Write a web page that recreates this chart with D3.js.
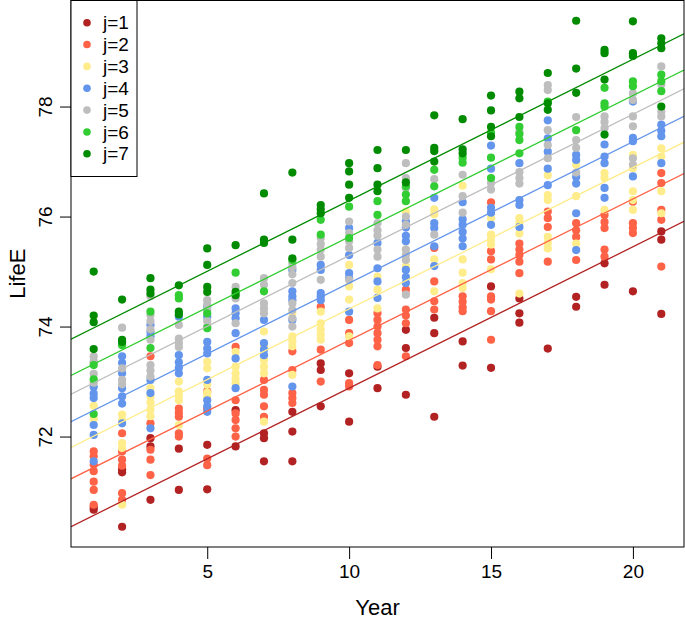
<!DOCTYPE html>
<html>
<head>
<meta charset="utf-8">
<script src="https://cdn.jsdelivr.net/npm/d3@7"></script>
<style>
  html, body { margin: 0; padding: 0; background: #fff; }
  svg { display: block; font-family: "Liberation Sans", Arial, Helvetica, sans-serif; }
</style>
</head>
<body>
<div id="chart"></div>
<script>
// ---------- DATA ----------
const years = [1,2,3,4,5,6,7,8,9,10,11,12,13,14,15,16,17,18,19,20,21];
const groupLabels = ["j=1","j=2","j=3","j=4","j=5","j=6","j=7"];
const groupColors = ["#B22222","#FF6347","#FFEC8B","#6495ED","#BEBEBE","#32CD32","#008B00"];
const xTicks = [5,10,15,20];
const yTicks = [72,74,76,78];

// LifeE values per year (index 0 = year 1) for each group
const j1 = [
  [70.67,70.72],[71.40,71.35,70.36],[71.97,71.82,70.85],[71.78,71.03],[71.85,71.04],
  [72.48,71.82],[72.06,71.97,71.55],[72.45,72.09,71.55],[73.33,73.21,72.55],[73.15,72.27],
  [73.27,72.88],[73.94,73.61,72.76],[74.16,73.88,72.36],[73.73,73.29],[74.73,73.25],
  [74.51,74.24,74.07],[73.60],[74.54,74.36],[75.15,74.76],[74.64],[75.73,75.58,74.23]
];
const j2 = [
  [71.73,71.64,71.49,71.37,71.18,71.03,70.76],[72.06,71.73,71.58,71.47,70.97,70.85],
  [73.46,72.24,71.76,71.58,71.30],[72.51,72.43,72.36,72.06,72.00],[72.82,72.51,71.60,71.48],
  [73.63,72.66,72.42,72.30,72.15,72.00],[73.03,72.85,72.76,72.55,72.36],[73.55,73.21,72.79,72.70,72.61],
  [74.36,73.58,73.00],[74.12,73.88,73.70,72.97,72.91],[74.24,74.12,74.00,73.88,73.76,73.64,73.30],
  [74.67,74.31,74.20,74.06,73.46],[75.43,74.82,74.46,74.31],[74.55,74.45,74.35,74.28],
  [76.26,75.37,75.22,74.55,74.49,74.28,73.76],[75.51,75.40,75.30,75.18,74.97],[76.09,75.97,75.81,75.18],
  [75.88,75.75,75.63,75.21],[76.03,75.90,75.79,75.40,75.27],[76.27,75.88,75.79,75.70],
  [76.79,76.61,76.12,75.94,75.09]
];
const j3 = [
  [72.56,72.32],[72.40,72.30,71.88,71.79,70.76],[72.88,72.73,72.62,72.49,72.37],
  [73.00,72.82,72.74,72.66,72.21],[73.36,73.24,72.94,72.80,72.72],[73.54,73.27,73.15,73.05,72.97],
  [73.91,73.64,73.39,73.27,73.15,72.27],[74.24,73.82,73.73,73.64,73.12],[74.27,74.06,73.95,73.85,73.76],
  [75.12,74.73,74.49,73.82],[74.91,74.67,74.33],[76.09,75.40,75.21,75.09],[76.13,76.04,75.22,74.64],
  [76.56,75.22,74.98,74.79,74.70],[75.97,75.67,75.58,75.49,75.04],[75.97,75.88,75.69,74.60],
  [76.75,76.39,76.30,75.63,75.52,75.42],[76.94,76.37,75.51],[76.79,76.70,76.12],
  [77.12,76.88,76.46,76.30,76.12],[77.24,77.09,76.46,76.06]
];
const j4 = [
  [72.90,72.78,72.70,72.21,72.03,71.55],[73.46,73.34,73.15,72.88,72.73,72.60,72.24],
  [74.03,73.90,73.82,73.03,72.79,72.15],[74.18,73.48,73.35,73.25,73.15],
  [74.36,74.18,73.72,73.60,73.51,73.03,72.66,72.55,72.45],[74.33,74.24,74.15,73.88,73.42,72.88],
  [74.12,73.70,73.58,73.48],[75.03,74.64,74.55,74.48,74.12,72.91],[75.12,75.03,74.61,74.55,74.48],
  [75.79,75.30,74.97,74.88,74.27],[75.52,75.06,74.82,74.52],[75.91,75.80,75.65,75.55,75.03,74.90,74.79],
  [76.34,75.88,75.79,75.46,75.10],[76.26,75.95,75.85,75.72,75.60,75.46],[77.29,76.87,76.16,76.07,75.85],
  [76.97,76.30,76.21,75.81],[77.75,77.42,77.18,76.87,76.57],[77.12,77.03,76.72,76.60,76.06,75.39],
  [77.31,77.09,76.97,76.52,76.34],[78.09,77.43,77.37,76.73],[77.67,77.56,77.46,76.97]
];
const j5 = [
  [73.46,73.37,73.34,73.14,72.98],[73.98,73.24,73.03,72.95],
  [74.55,74.21,74.10,73.95,73.76,73.30,73.20,73.09],[74.03,73.78,73.70,73.63],
  [74.48,74.40,74.30,74.10,74.00],[74.72,74.51,74.06],[74.88,74.76,74.42,74.33,74.24],
  [75.15,75.08,74.95,74.79,74.42,74.30,74.15,74.00],[75.61,75.50,75.40,75.27,74.85],
  [75.91,75.70,75.55,75.43,74.85],[75.88,75.75,75.65,75.40,75.27],
  [76.97,76.70,76.52,76.00,75.85,75.40,75.30,75.21,74.58],[77.19,76.68,75.67],[76.76,76.37,76.07],
  [76.61,76.49],[77.54,76.81,76.70,76.60],[78.39,78.30,77.57,77.30,77.06],[77.81,77.39,77.25,76.80],
  [77.82,77.72,77.61],[78.24,78.12,77.82,77.64,77.06,76.94],[78.73,78.40,77.91,77.82]
];
const j6 = [
  [73.30,73.04,72.41],[73.70,73.66],[74.27,73.61],[74.57,74.51],[74.24,73.97],[74.98],[74.64],
  [75.21],[75.94,75.67],[76.18,75.61],[76.28,76.03],[76.55,76.40,76.28],[76.85,76.55],[77.07,76.98],
  [77.52,77.07,76.70],[77.63,77.50,77.39,77.15],[78.09],[77.57],[78.34,78.06,78.00],[78.46,78.37],
  [78.58,78.46,78.28]
];
const j7 = [
  [75.00,74.20,74.08,73.59],[74.49,73.76,73.72],[74.88,74.67,74.60],[74.75,74.27,74.22],
  [75.42,75.12,74.72,74.63],[75.48,74.63,74.57],[76.42,75.58,75.52],[76.80,75.58,75.24],
  [76.21,76.13,76.06],[76.97,76.82,76.58,76.34],[77.21,76.88,76.58,76.46],[77.21,76.62],
  [77.84,77.25,77.19,77.00],[77.77,77.22,77.15],[78.20,77.93,77.63,77.46],[78.27,78.15,77.81],
  [78.61,78.06,77.94],[79.56,78.69,78.25],[79.03,78.97,78.49,77.49],[79.55,78.97,78.92],
  [79.24,79.15,79.06,78.00]
];
// fitted lines: LifeE = intercept + slope * Year
const lineIntercepts = [70.31,71.18,71.75,72.22,72.72,73.06,73.72];
const lineSlope = 0.257;

// ---------- CHART ----------
(function () {
const W = 685, H = 621;
const pL = 71, pR = 684, pT = 0.5, pB = 547;

const groupsData = [j1,j2,j3,j4,j5,j6,j7];
const points = [];
groupsData.forEach((g, gi) => {
  g.forEach((vals, yi) => {
    vals.forEach(v => points.push({g: gi, x: years[yi], y: v}));
  });
});

function ext(lo, hi) { const d = (hi - lo) * 0.04; return [lo - d, hi + d]; }
const xExt = ext(d3.min(years), d3.max(years));
const yExt = ext(d3.min(points, d => d.y), d3.max(points, d => d.y));

const x = d3.scaleLinear().domain(xExt).range([pL, pR]);
const y = d3.scaleLinear().domain(yExt).range([pB, pT]);

const svg = d3.select("#chart").append("svg")
  .attr("width", W).attr("height", H);

svg.append("defs").append("clipPath").attr("id", "clip")
  .append("rect").attr("x", pL).attr("y", pT)
  .attr("width", pR - pL).attr("height", pB - pT);

const plot = svg.append("g").attr("clip-path", "url(#clip)");

plot.selectAll("circle.pt").data(points).enter().append("circle")
  .attr("class", "pt")
  .attr("cx", d => x(d.x))
  .attr("cy", d => y(d.y))
  .attr("r", 4.1)
  .attr("fill", d => groupColors[d.g]);

plot.selectAll("line.fit").data(lineIntercepts).enter().append("line")
  .attr("class", "fit")
  .attr("x1", x(xExt[0])).attr("x2", x(xExt[1]))
  .attr("y1", d => y(d + lineSlope * xExt[0]))
  .attr("y2", d => y(d + lineSlope * xExt[1]))
  .attr("stroke", (d, i) => groupColors[i])
  .attr("stroke-width", 1.3);

// box
svg.append("rect").attr("x", pL).attr("y", pT)
  .attr("width", pR - pL).attr("height", pB - pT)
  .attr("fill", "none").attr("stroke", "#000").attr("stroke-width", 1);

// x axis
const xAxis = d3.axisBottom(x).tickValues(xTicks).tickSize(12).tickPadding(6).tickFormat(d3.format("d"));
const gx = svg.append("g").attr("transform", `translate(0,${pB})`).call(xAxis);
gx.select(".domain").remove();
gx.selectAll("text").attr("font-size", 19).attr("fill", "#000")
  .attr("font-family", "'Liberation Sans', Arial, sans-serif");
gx.selectAll("line").attr("stroke", "#000");

// y axis
const yAxis = d3.axisLeft(y).tickValues(yTicks).tickSize(11).tickPadding(0).tickFormat(d3.format("d"));
const gy = svg.append("g").attr("transform", `translate(${pL},0)`).call(yAxis);
gy.select(".domain").remove();
gy.selectAll("line").attr("stroke", "#000");
gy.selectAll("text")
  .attr("font-size", 19).attr("fill", "#000")
  .attr("font-family", "'Liberation Sans', Arial, sans-serif")
  .attr("text-anchor", "middle")
  .attr("dy", 0)
  .attr("x", 0)
  .attr("transform", "translate(-19,0) rotate(-90)");

// axis titles
svg.append("text").attr("x", (pL + pR) / 2).attr("y", 615)
  .attr("text-anchor", "middle").attr("font-size", 22).text("Year");
svg.append("text").attr("transform", `translate(25,${(pT + pB) / 2}) rotate(-90)`)
  .attr("text-anchor", "middle").attr("font-size", 22).text("LifeE");

// legend
const lg = svg.append("g");
lg.append("rect").attr("x", pL).attr("y", pT)
  .attr("width", 66).attr("height", 176)
  .attr("fill", "#fff").attr("stroke", "#000").attr("stroke-width", 1);
const items = lg.selectAll("g.item").data(groupLabels).enter().append("g")
  .attr("class", "item")
  .attr("transform", (d, i) => `translate(0,${22.7 + i * 21.85})`);
items.append("circle").attr("cx", 87).attr("cy", 0).attr("r", 3.8)
  .attr("fill", (d, i) => groupColors[i]);
items.append("text").attr("x", 103).attr("y", 0).attr("dy", "0.35em")
  .attr("font-size", 19).text(d => d);
})();
</script>
</body>
</html>
